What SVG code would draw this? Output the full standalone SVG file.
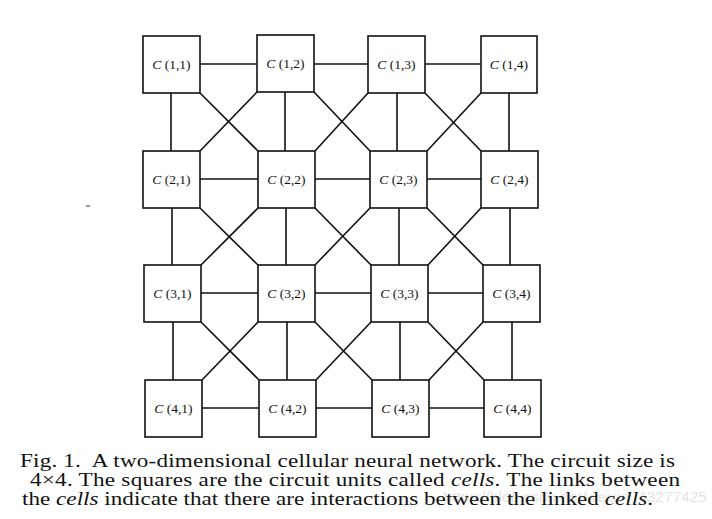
<svg xmlns="http://www.w3.org/2000/svg" width="712" height="519" viewBox="0 0 712 519">
<style>
.cell{fill:#fff;stroke:#111;stroke-width:1.6}
.lbl{font-family:"Liberation Serif","Times New Roman",serif;font-size:13.5px;fill:#111;text-anchor:middle}
.lbl tspan.c{font-style:italic}
#links line{stroke:#111;stroke-width:1.6}
.cap{font-family:"Liberation Serif","Times New Roman",serif;font-size:18.5px;fill:#111;white-space:pre}
</style>
<rect width="712" height="519" fill="#fff"/>
<g id="links">
<line x1="200" y1="64" x2="257" y2="64"/>
<line x1="314" y1="64" x2="368" y2="64"/>
<line x1="425" y1="64" x2="481" y2="64"/>
<line x1="200" y1="179" x2="258" y2="179"/>
<line x1="315" y1="179" x2="370" y2="179"/>
<line x1="427" y1="179" x2="481" y2="179"/>
<line x1="201" y1="293" x2="258" y2="293"/>
<line x1="315" y1="293" x2="371" y2="293"/>
<line x1="428" y1="293" x2="483" y2="293"/>
<line x1="202" y1="408" x2="259" y2="408"/>
<line x1="316" y1="408" x2="372" y2="408"/>
<line x1="429" y1="408" x2="484" y2="408"/>
<line x1="171" y1="93" x2="171" y2="151"/>
<line x1="285" y1="92" x2="285" y2="151"/>
<line x1="397" y1="93" x2="397" y2="151"/>
<line x1="509" y1="93" x2="509" y2="151"/>
<line x1="172" y1="208" x2="172" y2="265"/>
<line x1="286" y1="208" x2="286" y2="265"/>
<line x1="399" y1="208" x2="399" y2="265"/>
<line x1="510" y1="208" x2="510" y2="265"/>
<line x1="173" y1="322" x2="173" y2="380"/>
<line x1="287" y1="322" x2="287" y2="380"/>
<line x1="400" y1="322" x2="400" y2="380"/>
<line x1="512" y1="322" x2="512" y2="380"/>
<line x1="200" y1="93" x2="258" y2="151"/>
<line x1="257" y1="92" x2="200" y2="151"/>
<line x1="314" y1="92" x2="370" y2="151"/>
<line x1="368" y1="93" x2="315" y2="151"/>
<line x1="425" y1="93" x2="481" y2="151"/>
<line x1="481" y1="93" x2="427" y2="151"/>
<line x1="200" y1="208" x2="258" y2="265"/>
<line x1="258" y1="208" x2="201" y2="265"/>
<line x1="315" y1="208" x2="371" y2="265"/>
<line x1="370" y1="208" x2="315" y2="265"/>
<line x1="427" y1="208" x2="483" y2="265"/>
<line x1="481" y1="208" x2="428" y2="265"/>
<line x1="201" y1="322" x2="259" y2="380"/>
<line x1="258" y1="322" x2="202" y2="380"/>
<line x1="315" y1="322" x2="372" y2="380"/>
<line x1="371" y1="322" x2="316" y2="380"/>
<line x1="428" y1="322" x2="484" y2="380"/>
<line x1="483" y1="322" x2="429" y2="380"/>
</g>
<g id="c11"><rect class="cell" x="143" y="36" width="57" height="57"/><text class="lbl" x="171.5" y="69"><tspan class="c">C</tspan> (1,1)</text></g>
<g id="c12"><rect class="cell" x="257" y="35" width="57" height="57"/><text class="lbl" x="285.5" y="68"><tspan class="c">C</tspan> (1,2)</text></g>
<g id="c13"><rect class="cell" x="368" y="36" width="57" height="57"/><text class="lbl" x="396.5" y="69"><tspan class="c">C</tspan> (1,3)</text></g>
<g id="c14"><rect class="cell" x="481" y="36" width="56" height="57"/><text class="lbl" x="509" y="69"><tspan class="c">C</tspan> (1,4)</text></g>
<g id="c21"><rect class="cell" x="143" y="151" width="57" height="57"/><text class="lbl" x="171.5" y="184"><tspan class="c">C</tspan> (2,1)</text></g>
<g id="c22"><rect class="cell" x="258" y="151" width="57" height="57"/><text class="lbl" x="286.5" y="184"><tspan class="c">C</tspan> (2,2)</text></g>
<g id="c23"><rect class="cell" x="370" y="151" width="57" height="57"/><text class="lbl" x="398.5" y="184"><tspan class="c">C</tspan> (2,3)</text></g>
<g id="c24"><rect class="cell" x="481" y="151" width="57" height="57"/><text class="lbl" x="509.5" y="184"><tspan class="c">C</tspan> (2,4)</text></g>
<g id="c31"><rect class="cell" x="144" y="265" width="57" height="57"/><text class="lbl" x="172.5" y="298"><tspan class="c">C</tspan> (3,1)</text></g>
<g id="c32"><rect class="cell" x="258" y="265" width="57" height="57"/><text class="lbl" x="286.5" y="298"><tspan class="c">C</tspan> (3,2)</text></g>
<g id="c33"><rect class="cell" x="371" y="265" width="57" height="57"/><text class="lbl" x="399.5" y="298"><tspan class="c">C</tspan> (3,3)</text></g>
<g id="c34"><rect class="cell" x="483" y="265" width="57" height="57"/><text class="lbl" x="511.5" y="298"><tspan class="c">C</tspan> (3,4)</text></g>
<g id="c41"><rect class="cell" x="145" y="380" width="57" height="57"/><text class="lbl" x="173.5" y="413"><tspan class="c">C</tspan> (4,1)</text></g>
<g id="c42"><rect class="cell" x="259" y="380" width="57" height="57"/><text class="lbl" x="287.5" y="413"><tspan class="c">C</tspan> (4,2)</text></g>
<g id="c43"><rect class="cell" x="372" y="380" width="57" height="57"/><text class="lbl" x="400.5" y="413"><tspan class="c">C</tspan> (4,3)</text></g>
<g id="c44"><rect class="cell" x="484" y="380" width="57" height="57"/><text class="lbl" x="512.5" y="413"><tspan class="c">C</tspan> (4,4)</text></g>
<line x1="86" y1="206" x2="90" y2="206" stroke="#555" stroke-width="1.2"/>
<text x="707" y="502" text-anchor="end" font-family="Liberation Sans, Arial, sans-serif" font-size="15.5" fill="#e4e4e4">https://blog.csdn.net/weixin_43277425</text>
<g id="caption" transform="scale(1.25,1)">
<text class="cap" x="16" y="467" textLength="524" lengthAdjust="spacing">Fig. 1.  A two-dimensional cellular neural network. The circuit size is</text>
<text class="cap" x="24" y="486" textLength="520" lengthAdjust="spacing">4×4. The squares are the circuit units called <tspan font-style="italic">cells</tspan>. The links between</text>
<text class="cap" x="17.6" y="505" textLength="504.8" lengthAdjust="spacing">the <tspan font-style="italic">cells</tspan> indicate that there are interactions between the linked <tspan font-style="italic">cells</tspan>.</text>
</g>
</svg>
